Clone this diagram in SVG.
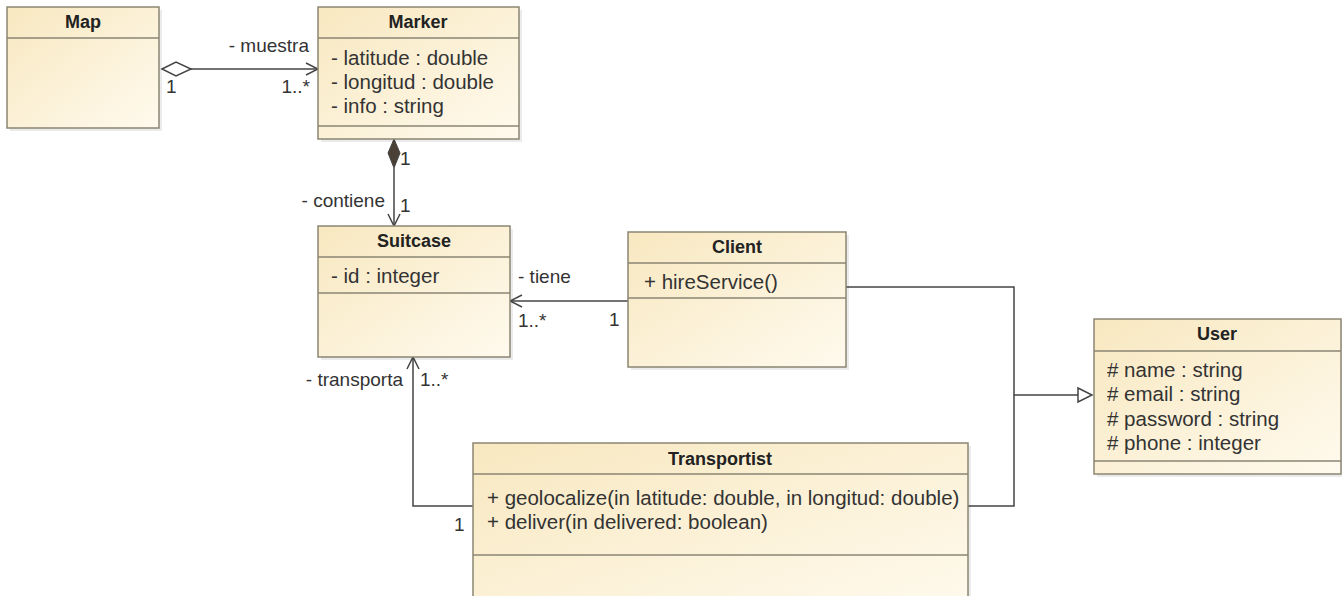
<svg xmlns="http://www.w3.org/2000/svg" width="1344" height="596" viewBox="0 0 1344 596">
<defs>
<linearGradient id="fill" x1="0" y1="0" x2="1" y2="1">
<stop offset="0" stop-color="#f8e8c0"/>
<stop offset="1" stop-color="#fffaee"/>
</linearGradient>
<marker id="open" viewBox="0 0 14 14" refX="13" refY="7" markerWidth="14" markerHeight="14" markerUnits="userSpaceOnUse" orient="auto">
<path d="M1,1 L13,7 L1,13" fill="none" stroke="#444" stroke-width="1.5"/>
</marker>
</defs>
<style>
.box{fill:url(#fill);stroke:#8a8573;stroke-width:1.5}
.shadow{fill:#000;opacity:0.08}
.sep{stroke:#8a8573;stroke-width:1.3}
.t{font-family:"Liberation Sans",Arial,sans-serif;font-size:18px;font-weight:bold;fill:#222;text-anchor:middle}
.a{font-family:"Liberation Sans",Arial,sans-serif;font-size:20.5px;fill:#333}
.l{font-family:"Liberation Sans",Arial,sans-serif;font-size:19px;fill:#333}
.e{text-anchor:end}
.c{fill:none;stroke:#444;stroke-width:1.5}
</style>
<rect width="1344" height="596" fill="#ffffff"/>

<g id="connectors">
<line class="c" x1="191" y1="69" x2="318" y2="69" marker-end="url(#open)"/>
<polygon points="162,69 176,62 191,69 176,76" fill="#fff" stroke="#444" stroke-width="1.5"/>
<text class="l e" x="309" y="52">- muestra</text>
<text class="l" x="166" y="93">1</text>
<text class="l e" x="310" y="93">1..*</text>
<line class="c" x1="394" y1="168" x2="394" y2="226" marker-end="url(#open)"/>
<polygon points="394,139 400,153 394,168 388,153" fill="#4a4036" stroke="#444" stroke-width="1"/>
<text class="l" x="400" y="165">1</text>
<text class="l e" x="385" y="207">- contiene</text>
<text class="l" x="400" y="212">1</text>
<line class="c" x1="628" y1="301" x2="510" y2="301" marker-end="url(#open)"/>
<text class="l" x="518" y="283">- tiene</text>
<text class="l" x="518" y="327">1..*</text>
<text class="l" x="609" y="326">1</text>
<polyline class="c" points="473,506 413,506 413,357" marker-end="url(#open)"/>
<text class="l e" x="403" y="386">- transporta</text>
<text class="l" x="420" y="386">1..*</text>
<text class="l" x="454" y="531">1</text>
<polyline class="c" points="846,287 1014,287 1014,395 1078,395"/>
<polyline class="c" points="968,506 1014,506 1014,395"/>
<polygon points="1078,388 1092,395 1078,402" fill="#fff" stroke="#444" stroke-width="1.5"/>
</g>

<g id="Map">
<rect class="shadow" x="10" y="10" width="152" height="121"/>
<rect class="box" x="7" y="7" width="152" height="121"/>
<line class="sep" x1="7" y1="38" x2="159" y2="38"/>
<text class="t" x="83" y="28">Map</text>
</g>

<g id="Marker">
<rect class="shadow" x="321" y="10" width="201" height="132"/>
<rect class="box" x="318" y="7" width="201" height="132"/>
<line class="sep" x1="318" y1="38" x2="519" y2="38"/>
<line class="sep" x1="318" y1="126" x2="519" y2="126"/>
<text class="t" x="418" y="28">Marker</text>
<text class="a" x="331" y="65">- latitude : double</text>
<text class="a" x="331" y="89">- longitud : double</text>
<text class="a" x="331" y="113">- info : string</text>
</g>

<g id="Suitcase">
<rect class="shadow" x="321" y="229" width="192" height="131"/>
<rect class="box" x="318" y="226" width="192" height="131"/>
<line class="sep" x1="318" y1="257" x2="510" y2="257"/>
<line class="sep" x1="318" y1="293" x2="510" y2="293"/>
<text class="t" x="414" y="247">Suitcase</text>
<text class="a" x="331" y="283">- id : integer</text>
</g>

<g id="Client">
<rect class="shadow" x="631" y="235" width="218" height="135"/>
<rect class="box" x="628" y="232" width="218" height="135"/>
<line class="sep" x1="628" y1="263" x2="846" y2="263"/>
<line class="sep" x1="628" y1="298" x2="846" y2="298"/>
<text class="t" x="737" y="253">Client</text>
<text class="a" x="644" y="289">+ hireService()</text>
</g>

<g id="User">
<rect class="shadow" x="1097" y="322" width="245" height="155"/>
<rect class="box" x="1094" y="319" width="247" height="155"/>
<line class="sep" x1="1094" y1="351" x2="1341" y2="351"/>
<line class="sep" x1="1094" y1="461" x2="1341" y2="461"/>
<text class="t" x="1217" y="340">User</text>
<text class="a" x="1107" y="377"># name : string</text>
<text class="a" x="1107" y="401"># email : string</text>
<text class="a" x="1107" y="426"># password : string</text>
<text class="a" x="1107" y="450"># phone : integer</text>
</g>

<g id="Transportist">
<rect class="shadow" x="476" y="446" width="495" height="170"/>
<rect class="box" x="473" y="443" width="495" height="170"/>
<line class="sep" x1="473" y1="474" x2="968" y2="474"/>
<line class="sep" x1="473" y1="555" x2="968" y2="555"/>
<text class="t" x="720" y="465">Transportist</text>
<text class="a" x="487" y="505">+ geolocalize(in latitude: double, in longitud: double)</text>
<text class="a" x="487" y="529">+ deliver(in delivered: boolean)</text>
</g>
</svg>
